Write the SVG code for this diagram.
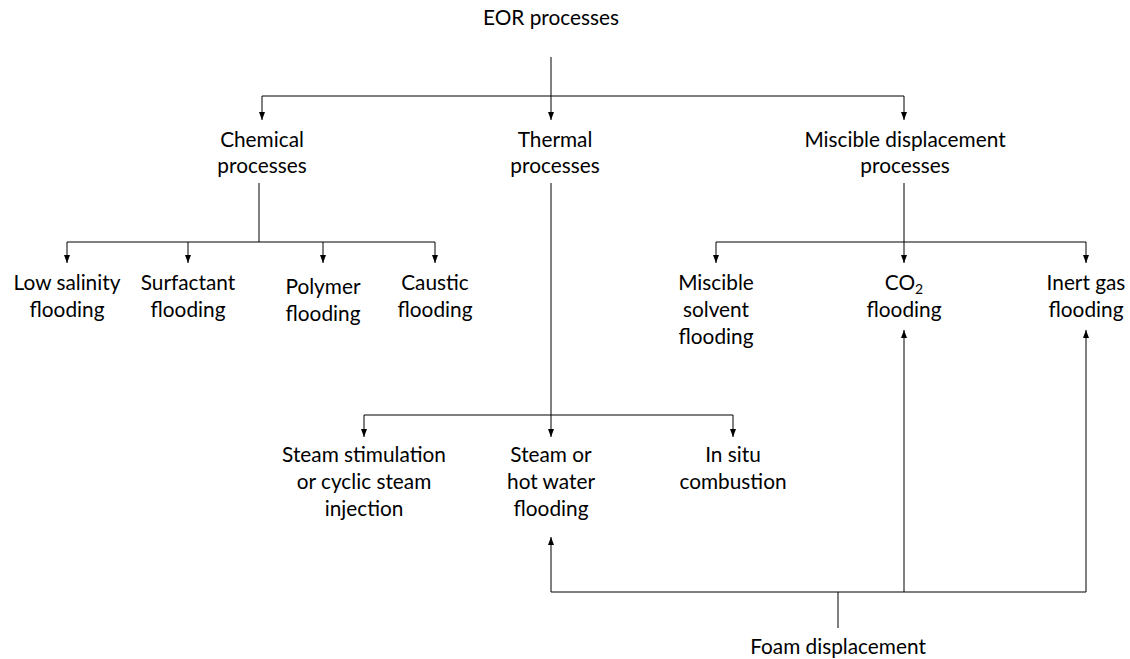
<svg xmlns="http://www.w3.org/2000/svg" width="1130" height="659" viewBox="0 0 1130 659">
<defs>
<marker id="ah" viewBox="0 0 8 8" refX="8" refY="4" markerWidth="8" markerHeight="8" markerUnits="userSpaceOnUse" orient="auto">
<path d="M0,1 L8,4 L0,7 Z" fill="#000"/>
</marker>
<style>
text{font-family:Lato,"Liberation Sans",sans-serif;font-size:20.8px;fill:#000;text-anchor:middle}
.c line{stroke:#000;stroke-width:1;fill:none}
</style>
</defs>
<rect width="1130" height="659" fill="#fff"/>
<g class="c" id="connectors">
<line x1="551" y1="57" x2="551" y2="120" marker-end="url(#ah)"/>
<line x1="262" y1="96" x2="904" y2="96"/>
<line x1="262" y1="96" x2="262" y2="120" marker-end="url(#ah)"/>
<line x1="904" y1="96" x2="904" y2="120" marker-end="url(#ah)"/>
<line x1="259" y1="183" x2="259" y2="242"/>
<line x1="67" y1="242" x2="435" y2="242"/>
<line x1="67" y1="242" x2="67" y2="263" marker-end="url(#ah)"/>
<line x1="188" y1="242" x2="188" y2="263" marker-end="url(#ah)"/>
<line x1="323" y1="242" x2="323" y2="263" marker-end="url(#ah)"/>
<line x1="435" y1="242" x2="435" y2="263" marker-end="url(#ah)"/>
<line x1="551" y1="183" x2="551" y2="437" marker-end="url(#ah)"/>
<line x1="364" y1="415" x2="733" y2="415"/>
<line x1="364" y1="415" x2="364" y2="437" marker-end="url(#ah)"/>
<line x1="733" y1="415" x2="733" y2="437" marker-end="url(#ah)"/>
<line x1="904" y1="183" x2="904" y2="263" marker-end="url(#ah)"/>
<line x1="716" y1="242" x2="1086" y2="242"/>
<line x1="716" y1="242" x2="716" y2="263" marker-end="url(#ah)"/>
<line x1="1086" y1="242" x2="1086" y2="263" marker-end="url(#ah)"/>
<line x1="838" y1="628" x2="838" y2="592"/>
<line x1="551" y1="592" x2="1086" y2="592"/>
<line x1="551" y1="592" x2="551" y2="537" marker-end="url(#ah)"/>
<line x1="904" y1="592" x2="904" y2="330" marker-end="url(#ah)"/>
<line x1="1086" y1="592" x2="1086" y2="330" marker-end="url(#ah)"/>
</g>
<g id="eor"><text x="551" y="25">EOR processes</text></g>
<g id="chemical"><text x="262" y="147">Chemical</text><text x="262" y="173">processes</text></g>
<g id="thermal"><text x="555" y="147">Thermal</text><text x="555" y="173">processes</text></g>
<g id="miscible"><text x="905" y="147">Miscible displacement</text><text x="905" y="173">processes</text></g>
<g id="lowsal"><text x="67" y="290">Low salinity</text><text x="67" y="317">flooding</text></g>
<g id="surf"><text x="188" y="290">Surfactant</text><text x="188" y="317">flooding</text></g>
<g id="poly"><text x="323" y="294">Polymer</text><text x="323" y="321">flooding</text></g>
<g id="caustic"><text x="435" y="290">Caustic</text><text x="435" y="317">flooding</text></g>
<g id="solvent"><text x="716" y="290">Miscible</text><text x="716" y="317">solvent</text><text x="716" y="344">flooding</text></g>
<g id="co2"><text x="904" y="290">CO<tspan font-size="14" dy="4">2</tspan></text><text x="904" y="317">flooding</text></g>
<g id="inert"><text x="1086" y="290">Inert gas</text><text x="1086" y="317">flooding</text></g>
<g id="steamstim"><text x="364" y="462">Steam stimulation</text><text x="364" y="489">or cyclic steam</text><text x="364" y="516">injection</text></g>
<g id="steamhot"><text x="551" y="462">Steam or</text><text x="551" y="489">hot water</text><text x="551" y="516">flooding</text></g>
<g id="insitu"><text x="733" y="462">In situ</text><text x="733" y="489">combustion</text></g>
<g id="foam"><text x="838" y="654">Foam displacement</text></g>
</svg>
